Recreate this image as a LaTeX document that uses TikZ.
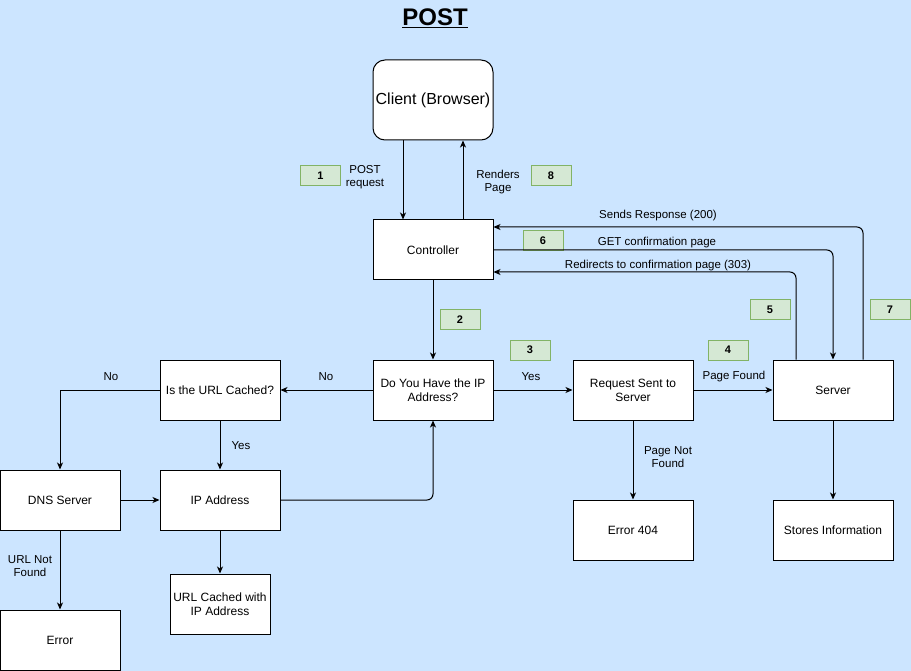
\documentclass[tikz,border=0pt]{standalone}
\usepackage{fontspec}
\setmainfont{Liberation Sans}
\usepackage{xcolor}
\usetikzlibrary{
    arrows.meta,
    positioning
}
\definecolor{bgblue}{HTML}{CCE5FF}
\definecolor{numfill}{HTML}{D5E8D4}
\definecolor{numline}{HTML}{82B366}
\tikzset{
    stepbox/.style={draw, fill=white, minimum width=120pt, minimum height=60pt, align=center, inner sep=2pt, font=\fontsize{12}{14}\selectfont},
    numbox/.style={draw=numline, fill=numfill, minimum width=40pt, minimum height=20pt, inner sep=0pt, font=\fontsize{11}{13}\selectfont\bfseries},
    lbl/.style={align=center, inner sep=1pt, font=\fontsize{11.5}{13.5}\selectfont},
    arr/.style={-{Stealth[length=7pt, width=6pt, inset=2pt]}, line width=1pt}
}

\begin{document}
\begin{tikzpicture}[x=1pt, y=-1pt, line width=1pt]
                        \fill[bgblue] (0, 0) rectangle (911, 671);
                        \useasboundingbox (0, 0) rectangle (911, 671);
                        \node (title) at (435, 18) {\fontsize{24}{28}\selectfont\bfseries\underline{POST}};
                        \node[stepbox, rounded corners=12pt, minimum height=80pt, font=\fontsize{16}{18}\selectfont] (client) at (433, 100) {Client (Browser)};
                        \node[stepbox] (ctrl) at (433, 250) {Controller};
                        \node[stepbox] (haveip) at (433, 390) {Do You Have the IP\\Address?};
                        \node[stepbox] (cached) at (220, 390) {Is the URL Cached?};
                        \node[stepbox] (dns) at (60, 500) {DNS Server};
                        \node[stepbox] (ipaddr) at (220, 500) {IP Address};
                        \node[stepbox, minimum width=100pt] (urlcached) at (220, 604) {URL Cached with\\IP Address};
                        \node[stepbox] (error) at (60, 640) {Error};
                        \node[stepbox] (reqsent) at (633, 390) {Request Sent to\\Server};
                        \node[stepbox] (err404) at (633, 530) {Error 404};
                        \node[stepbox] (server) at (833, 390) {Server};
                        \node[stepbox] (stores) at (833, 530) {Stores Information};
                        \node[numbox] (n1) at (320.5, 176) {1};
                        \node[numbox] (n2) at (460, 320) {2};
                        \node[numbox] (n3) at (530, 350) {3};
                        \node[numbox] (n4) at (728, 350) {4};
                        \node[numbox] (n5) at (770, 310) {5};
                        \node[numbox] (n6) at (543, 241) {6};
                        \node[numbox] (n7) at (890, 310) {7};
                        \node[numbox] (n8) at (551, 176) {8};
                        \node[lbl] (lpost) at (365, 177) {POST\\request};
                        \node[lbl] (lrender) at (498, 182) {Renders\\Page};
                        \node[lbl] (lsends) at (658, 216) {Sends Response (200)};
                        \node[lbl] (lget) at (657, 243) {GET confirmation page};
                        \node[lbl] (lredir) at (658, 266) {Redirects to confirmation page (303)};
                        \node[lbl] (lno1) at (326, 377) {No};
                        \node[lbl] (lno2) at (111, 377) {No};
                        \node[lbl] (lyes1) at (241, 446) {Yes};
                        \node[lbl] (lyes2) at (531, 377) {Yes};
                        \node[lbl] (lfound) at (734, 377) {Page Found};
                        \node[lbl] (lurlnf) at (30, 566) {URL Not\\Found};
                        \node[lbl] (lpagenf) at (668, 457) {Page Not\\Found};
                        \draw[arr] ([xshift=-30pt]client.south) -- ([xshift=-30pt]ctrl.north);
                        \draw[arr] ([xshift=30pt]ctrl.north) -- ([xshift=30pt]client.south);
                        \draw[arr, rounded corners=6pt] ([xshift=30pt]server.north) |- ([yshift=23pt]ctrl.east);
                        \draw[arr, rounded corners=6pt] (ctrl.east) -| (server.north);
                        \draw[arr, rounded corners=6pt] ([xshift=-37pt]server.north) |- ([yshift=-22pt]ctrl.east);
                        \draw[arr] (ctrl.south) -- (haveip.north);
                        \draw[arr] (haveip.west) -- (cached.east);
                        \draw[arr] (cached.west) -| (dns.north);
                        \draw[arr] (cached.south) -- (ipaddr.north);
                        \draw[arr] (dns.east) -- (ipaddr.west);
                        \draw[arr, rounded corners=6pt] (ipaddr.east) -| (haveip.south);
                        \draw[arr] (ipaddr.south) -- (urlcached.north);
                        \draw[arr] (dns.south) -- (error.north);
                        \draw[arr] (haveip.east) -- (reqsent.west);
                        \draw[arr] (reqsent.east) -- (server.west);
                        \draw[arr] (reqsent.south) -- (err404.north);
                        \draw[arr] (server.south) -- (stores.north);
                    \end{tikzpicture}
\end{document}
